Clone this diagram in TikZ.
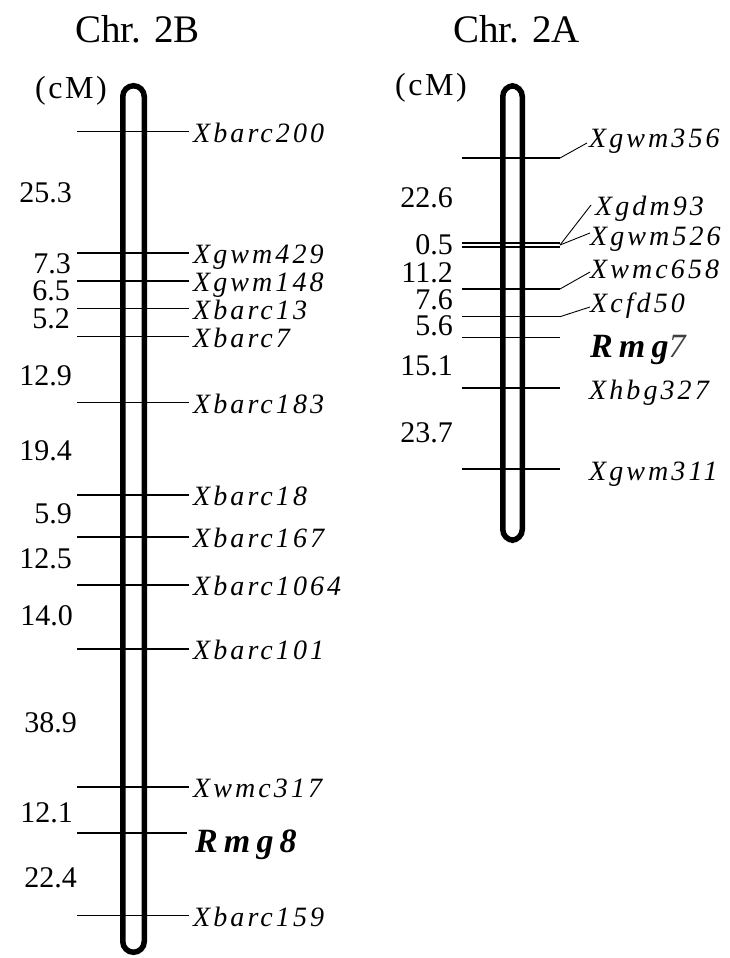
\documentclass[tikz,border=0pt]{standalone}
\usepackage{fontspec}
\setmainfont{Liberation Serif}
% loosely tracked serif for marker names and units
\newfontfamily\markerfont[LetterSpace=11]{Liberation Serif}
\newfontfamily\genefont[LetterSpace=18]{Liberation Serif}
\newfontfamily\unitfont[LetterSpace=8]{Liberation Serif}

\begin{document}
\begin{tikzpicture}[x=1pt,y=-1pt,
  chrom/.style={line width=5.5pt, rounded corners=10.75pt},
  marker/.style={line width=1.3pt},
  leader/.style={line width=0.9pt},
  mlabel/.style={anchor=base west, inner sep=0pt, font=\fontsize{28}{28}\markerfont\itshape},
  glabel/.style={anchor=base west, inner sep=0pt, font=\fontsize{34}{34}\genefont\bfseries\itshape},
  dist/.style={anchor=base east, inner sep=0pt, text height=21pt, text depth=0pt,
    font=\fontsize{30}{30}\selectfont},
  title/.style={anchor=base west, inner sep=0pt, font=\fontsize{39}{39}\selectfont},
  unit/.style={anchor=base west, inner sep=0pt, font=\fontsize{32}{32}\unitfont}]
\useasboundingbox (0,0) rectangle (729,958);

% ---------------- chromosome 2B ----------------
\node[title] (t2B) at (75,43) {Chr. 2B};
\node[unit] (u2B) at (35,99) {(cM)};
\draw[chrom] (122.75,85.75) rectangle (144.25,952.25);

\foreach \n/\y/\t in {a/131.7/Xbarc200, b/253/Xgwm429, c/281/Xgwm148,
    d/308.7/Xbarc13, e/336.7/Xbarc7, f/402.7/Xbarc183, g/495/Xbarc18,
    h/537/Xbarc167, i/585/Xbarc1064, j/649/Xbarc101, k/787/Xwmc317,
    m/915.7/Xbarc159}{
  \coordinate (L\n) at (77,\y);
  \node[mlabel] (LT\n) at (193,{\y+10.5}) {\t};
  \draw[marker, shorten >=4pt] (L\n) -- (L\n -| LT\n.west);
}
\coordinate (Lr) at (77,833);
\node[glabel] (LTr) at (195,852) {Rmg8};
\draw[marker] (Lr) -- ([xshift=-8pt]Lr -| LTr.west);

\foreach \n/\y/\v/\x in {a/192/25.3/72, b/263/7.3/71, c/290/6.5/70,
    d/318/5.2/70, e/375/12.9/72, f/450/19.4/72, g/513/5.9/72,
    h/558/12.5/72, i/615/14.0/73, j/722/38.9/77, k/812/12.1/73,
    m/877/22.4/77}{
  \node[dist] (LD\n) at (\x,{\y+10.5}) {\v};
}

% ---------------- chromosome 2A ----------------
\node[title] (t2A) at (453,43) {Chr. 2A};
\node[unit] (u2A) at (395,95) {(cM)};
\draw[chrom] (502.75,85.75) rectangle (522.25,540.25);

% markers with slanted leaders to their names
\coordinate (Ra1) at (462,158);   \coordinate (Ra2) at (560,158);
\node[mlabel] (RTa) at (589,147) {Xgwm356};
\draw[marker] (Ra1) -- (Ra2);
\draw[leader] (Ra2) -- ([shift={(-2pt,4pt)}]RTa.base west);

\coordinate (Rb1) at (462,243);   \coordinate (Rb2) at (560,243);
\coordinate (Rc1) at (462,247);   \coordinate (Rc2) at (560,247);
\coordinate (Rbc) at (560,245);
\node[mlabel] (RTb) at (595,215) {Xgdm93};
\node[mlabel] (RTc) at (590,245) {Xgwm526};
\draw[marker] (Rb1) -- (Rb2);
\draw[marker] (Rc1) -- (Rc2);
\draw[leader] (Rbc) -- ([shift={(-4pt,10pt)}]RTb.base west);
\draw[leader] (Rbc) -- ([shift={(0pt,12pt)}]RTc.base west);

\coordinate (Rd1) at (462,289);   \coordinate (Rd2) at (560,289);
\node[mlabel] (RTd) at (590,278) {Xwmc658};
\draw[marker] (Rd1) -- (Rd2);
\draw[leader] (Rd2) -- ([shift={(0pt,6pt)}]RTd.base west);

\coordinate (Re1) at (462,316.7); \coordinate (Re2) at (560,316.7);
\node[mlabel] (RTe) at (590,312) {Xcfd50};
\draw[marker] (Re1) -- (Re2);
\draw[leader] (Re2) -- ([shift={(0pt,5pt)}]RTe.base west);

% markers with names set straight beside them
\coordinate (Rf1) at (462,337.7); \coordinate (Rf2) at (560,337.7);
\node[glabel] (RTf) at (590,357) {Rmg{\mdseries\color{black!75}7}};
\draw[marker] (Rf1) -- (Rf2);

\coordinate (Rg1) at (462,388);   \coordinate (Rg2) at (560,388);
\node[mlabel] (RTg) at (589,399) {Xhbg327};
\draw[marker] (Rg1) -- (Rg2);

\coordinate (Rh1) at (462,469);   \coordinate (Rh2) at (560,469);
\node[mlabel] (RTh) at (589,480) {Xgwm311};
\draw[marker] (Rh1) -- (Rh2);

\foreach \n/\y/\v in {a/197/22.6, b/244/0.5, c/272/11.2, d/299/7.6,
    e/325/5.6, f/365/15.1, g/432/23.7}{
  \node[dist] (RD\n) at (453,{\y+10.5}) {\v};
}
\end{tikzpicture}
\end{document}
